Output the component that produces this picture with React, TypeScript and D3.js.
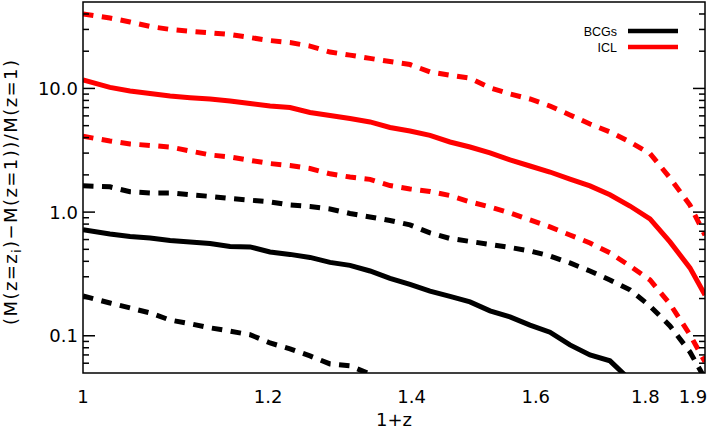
import React from "react";
import * as d3 from "d3";

// 1+z sample positions
const zGrid = [0.9835, 1.0124, 1.0345, 1.057, 1.08, 1.1035, 1.1274, 1.1519, 1.1769, 1.2025, 1.2286, 1.2553, 1.2826, 1.3104, 1.3389, 1.368, 1.3977, 1.4281, 1.4591, 1.4908, 1.5232, 1.5563, 1.5901, 1.6246, 1.6599, 1.696, 1.7328, 1.7705, 1.809, 1.8483, 1.8884, 1.9192];

const iclUpper = [40.0, 37.1, 34.5, 31.7, 30.0, 29.0, 28.2, 27.3, 25.8, 24.4, 23.5, 22.0, 19.7, 18.6, 17.5, 16.5, 15.6, 13.6, 12.8, 12.1, 10.1, 9.02, 8.22, 7.21, 6.1, 5.16, 4.45, 3.69, 2.98, 1.89, 1.14, 0.65];
const iclMedian = [11.7, 10.2, 9.54, 9.11, 8.69, 8.42, 8.22, 7.92, 7.56, 7.21, 7.01, 6.39, 6.04, 5.71, 5.36, 4.83, 4.53, 4.17, 3.69, 3.36, 3.01, 2.64, 2.36, 2.11, 1.85, 1.63, 1.38, 1.12, 0.88, 0.574, 0.354, 0.214];
const iclLower = [4.1, 3.76, 3.56, 3.46, 3.36, 3.12, 2.9, 2.79, 2.62, 2.47, 2.38, 2.25, 2.04, 1.92, 1.84, 1.64, 1.54, 1.47, 1.36, 1.21, 1.1, 0.985, 0.864, 0.759, 0.653, 0.563, 0.468, 0.367, 0.283, 0.181, 0.102, 0.0615];
const bcgUpper = [1.63, 1.6, 1.46, 1.43, 1.43, 1.38, 1.34, 1.29, 1.25, 1.21, 1.14, 1.11, 1.06, 0.975, 0.914, 0.856, 0.788, 0.679, 0.612, 0.579, 0.548, 0.518, 0.485, 0.442, 0.388, 0.334, 0.283, 0.235, 0.174, 0.12, 0.074, 0.045];
const bcgMedian = [0.72, 0.666, 0.636, 0.618, 0.59, 0.574, 0.558, 0.528, 0.523, 0.476, 0.455, 0.43, 0.392, 0.371, 0.334, 0.291, 0.26, 0.23, 0.208, 0.188, 0.159, 0.142, 0.122, 0.107, 0.0844, 0.07, 0.0627, 0.044, null, null, null, null];
const bcgLower = [0.21, 0.184, 0.168, 0.153, 0.134, 0.125, 0.116, 0.109, 0.102, 0.0875, 0.0783, 0.0687, 0.0592, 0.0571, 0.049, 0.043, null, null, null, null, null, null, null, null, null, null, null, null, null, null, null, null];

const xTickValues = [0.9835, 1.2, 1.4, 1.6, 1.8, 1.9];
const xTickLabels = ["1", "1.2", "1.4", "1.6", "1.8", "1.9"];
const yMajorTicks = [0.1, 1, 10];
const yMajorLabels = ["0.1", "1.0", "10.0"];
const yMinorTicks = [0.06, 0.07, 0.08, 0.09, 0.2, 0.3, 0.4, 0.5, 0.6, 0.7, 0.8, 0.9, 2, 3, 4, 5, 6, 7, 8, 9, 20, 30, 40];

const legendNames = ["BCGs", "ICL"];
const legendColors = ["#000000", "#ff0000"];

const W = 708;
const H = 429;
const L = 83, R = 705, T = 2, B = 373;
const FONT = "'DejaVu Sans', sans-serif";

export default function App() {
  const x = d3.scaleLog().domain([0.9835, 1.9192]).range([L, R]);
  const y = d3.scaleLog().domain([0.05, 50]).range([B, T]);

  const line = d3
    .line<[number, number | null]>()
    .defined((d) => d[1] != null)
    .x((d) => x(d[0]))
    .y((d) => y(d[1] as number));

  const mk = (vals: (number | null)[]) => line(zGrid.map((z, i) => [z, vals[i]] as [number, number | null])) || "";

  const series = [
    { vals: bcgLower, color: "#000", dash: "10.5 8.5" },
    { vals: bcgUpper, color: "#000", dash: "10.5 8.5" },
    { vals: bcgMedian, color: "#000", dash: null },
    { vals: iclLower, color: "#ff0000", dash: "10.5 8.5" },
    { vals: iclUpper, color: "#ff0000", dash: "10.5 8.5" },
    { vals: iclMedian, color: "#ff0000", dash: null },
  ];

  return (
    <svg width={W} height={H} style={{ position: "fixed", left: 0, top: 0, background: "#fff" }} fontFamily={FONT}>
      <defs>
        <clipPath id="plot">
          <rect x={L} y={T} width={R - L} height={B - T} />
        </clipPath>
      </defs>
      <rect x={0} y={0} width={W} height={H} fill="#fff" />
      <g clipPath="url(#plot)">
        {series.map((s, i) => (
          <path
            key={i}
            d={mk(s.vals)}
            fill="none"
            stroke={s.color}
            strokeWidth={5}
            strokeDasharray={s.dash || undefined}
          />
        ))}
      </g>
      {/* y ticks left and right */}
      {yMajorTicks.map((v, i) => (
        <g key={"M" + i}>
          <line x1={L} x2={L + 12} y1={y(v)} y2={y(v)} stroke="#000" strokeWidth={1.5} />
          <line x1={R} x2={R - 12} y1={y(v)} y2={y(v)} stroke="#000" strokeWidth={1.5} />
          <text x={L - 5} y={y(v)} dy="0.36em" textAnchor="end" fontSize={18} fill="#000">
            {yMajorLabels[i]}
          </text>
        </g>
      ))}
      {yMinorTicks.map((v, i) => (
        <g key={"m" + i}>
          <line x1={L} x2={L + 6} y1={y(v)} y2={y(v)} stroke="#000" strokeWidth={1.5} />
          <line x1={R} x2={R - 6} y1={y(v)} y2={y(v)} stroke="#000" strokeWidth={1.5} />
        </g>
      ))}
      {xTickValues.map((v, i) => (
        <text key={"x" + i} x={Math.min(x(v), W - 15)} y={403} textAnchor="middle" fontSize={18} fill="#000">
          {xTickLabels[i]}
        </text>
      ))}
      <rect x={L} y={T} width={R - L} height={B - T} fill="none" stroke="#000" strokeWidth={1.5} />
      <text x={(L + R) / 2} y={426} textAnchor="middle" fontSize={18} fill="#000">
        1+z
      </text>
      <text
        transform={`translate(17,${(T + B) / 2 + 5}) rotate(-90)`}
        textAnchor="middle"
        fontSize={18}
        fill="#000"
        textLength={265}
        lengthAdjust="spacing"
      >
        (M(z=z<tspan fontSize={12} dy={4}>i</tspan>
        <tspan dy={-4}>)−M(z=1))/M(z=1)</tspan>
      </text>
      {legendNames.map((n, i) => (
        <g key={n}>
          <text x={617} y={36 + i * 16} textAnchor="end" fontSize={12.5} fill="#000" fontFamily="'Liberation Sans', Arial, sans-serif">
            {n}
          </text>
          <line x1={628} x2={678} y1={31 + i * 16} y2={31 + i * 16} stroke={legendColors[i]} strokeWidth={4.5} />
        </g>
      ))}
    </svg>
  );
}
